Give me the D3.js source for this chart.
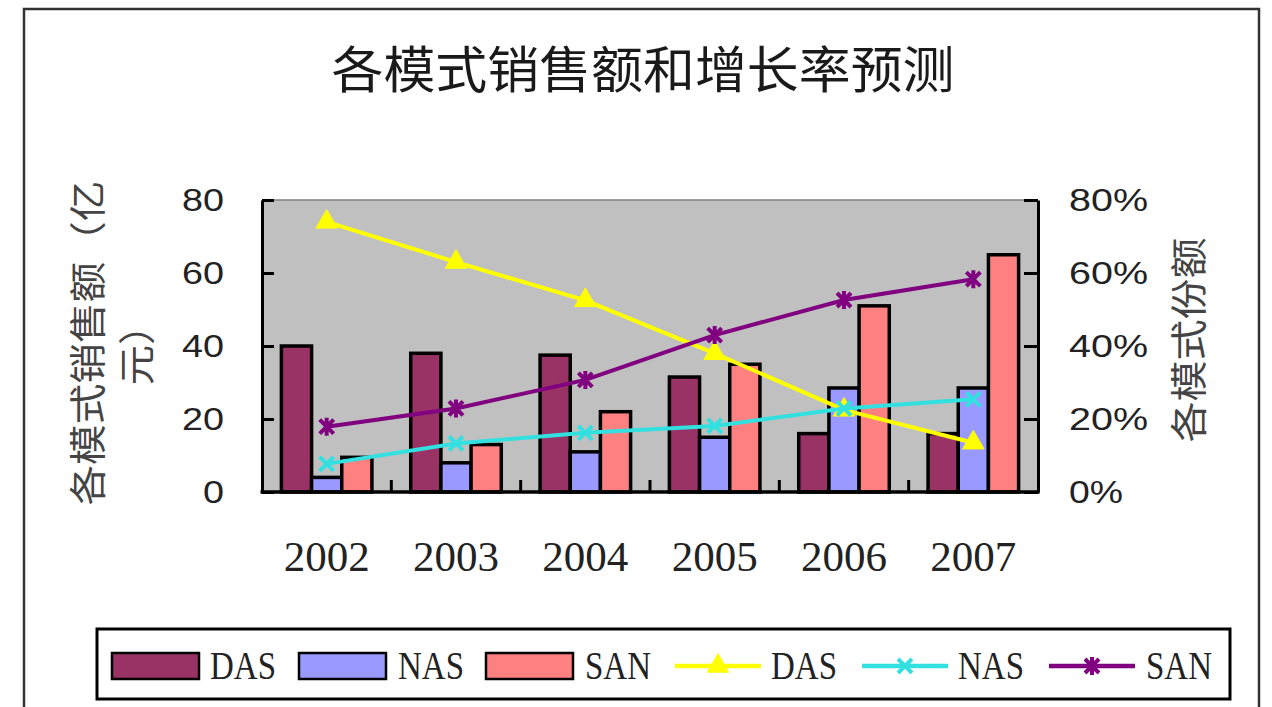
<!DOCTYPE html>
<html>
<head>
<meta charset="utf-8">
<script src="https://cdn.jsdelivr.net/npm/d3@7"></script>
<style>
  html, body { margin: 0; padding: 0; background: #fff; }
  svg { display: block; }
</style>
</head>
<body>
<svg id="chart" width="1272" height="707"></svg>
<script>
// Sales by storage mode (亿元) and each mode's market share, 2002–2007
const years = ["2002", "2003", "2004", "2005", "2006", "2007"];
const salesDAS = [40, 38, 37.5, 31.5, 16, 16];
const salesNAS = [4, 8, 11, 15, 28.5, 28.5];
const salesSAN = [9.5, 13, 22, 35, 51, 65];
const shareDAS = [0.74, 0.63, 0.525, 0.38, 0.225, 0.135];
const shareNAS = [0.077, 0.133, 0.162, 0.181, 0.229, 0.254];
const shareSAN = [0.179, 0.229, 0.307, 0.43, 0.526, 0.583];
const leftTicks = [0, 20, 40, 60, 80];
const rightTicks = [0, 0.2, 0.4, 0.6, 0.8];
const seriesNames = ["DAS", "NAS", "SAN"];

const barColors = { DAS: "#993366", NAS: "#9999FF", SAN: "#FF8080" };
const lineColors = { DAS: "#FFFF00", NAS: "#33E0E0", SAN: "#800080" };

const svg = d3.select("#chart");
const plot = { left: 262, right: 1038, top: 200, bottom: 492 };

const sansFont = "'Liberation Sans', Arial, sans-serif";
const serifFont = "'Liberation Serif', 'DejaVu Serif', serif";
const cjkFont = "'Noto Sans CJK SC', 'Noto Sans', sans-serif";

// outer frame
svg.append("rect")
  .attr("x", 24).attr("y", 9).attr("width", 1235).attr("height", 720)
  .attr("fill", "#fff").attr("stroke", "#333").attr("stroke-width", 2.5);

// title
svg.append("text")
  .attr("x", 643).attr("y", 88)
  .attr("text-anchor", "middle")
  .attr("font-family", cjkFont).attr("font-size", 50)
  .attr("fill", "#1a1a1a")
  .attr("textLength", 623).attr("lengthAdjust", "spacingAndGlyphs")
  .text("各模式销售额和增长率预测");

// scales
const x0 = d3.scaleBand().domain(years)
  .range([plot.left, plot.right]).paddingInner(0.3).paddingOuter(0.15);
const x1 = d3.scaleBand().domain(seriesNames).range([0, x0.bandwidth()]);
const yL = d3.scaleLinear().domain([0, 80]).range([plot.bottom, plot.top]);
const yR = d3.scaleLinear().domain([0, 0.8]).range([plot.bottom, plot.top]);
const cx = y => x0(y) + x0.bandwidth() / 2;

// plot background
svg.append("rect")
  .attr("x", plot.left).attr("y", plot.top)
  .attr("width", plot.right - plot.left).attr("height", plot.bottom - plot.top)
  .attr("fill", "#C0C0C0");
svg.append("line")
  .attr("x1", plot.left).attr("x2", plot.right)
  .attr("y1", plot.top).attr("y2", plot.top)
  .attr("stroke", "#808080").attr("stroke-width", 1.5);

// bars
const salesBySeries = { DAS: salesDAS, NAS: salesNAS, SAN: salesSAN };
seriesNames.forEach(name => {
  svg.append("g").selectAll("rect")
    .data(years.map((yr, i) => ({ yr, v: salesBySeries[name][i] })))
    .join("rect")
    .attr("x", d => x0(d.yr) + x1(name))
    .attr("y", d => yL(d.v))
    .attr("width", x1.bandwidth())
    .attr("height", d => yL(0) - yL(d.v))
    .attr("fill", barColors[name])
    .attr("stroke", "#000").attr("stroke-width", 3.5);
});

// axes
const axisStyle = g => {
  g.select(".domain").attr("stroke", "#000").attr("stroke-width", 3);
  g.selectAll(".tick line").attr("stroke", "#000").attr("stroke-width", 3);
};

const gLeft = svg.append("g").attr("transform", `translate(${plot.left},0)`)
  .call(d3.axisLeft(yL).tickValues(leftTicks).tickSizeInner(-12).tickSizeOuter(0).tickPadding(38))
  .call(axisStyle);
gLeft.selectAll(".tick text")
  .attr("font-family", sansFont).attr("font-size", 32).attr("fill", "#222")
  .attr("textLength", function (d) { return String(d).length * 21; })
  .attr("lengthAdjust", "spacingAndGlyphs");

const gRight = svg.append("g").attr("transform", `translate(${plot.right},0)`)
  .call(d3.axisRight(yR).tickValues(rightTicks).tickFormat(d3.format(".0%"))
    .tickSizeInner(-14).tickSizeOuter(0).tickPadding(31))
  .call(axisStyle);
gRight.selectAll(".tick text")
  .attr("font-family", sansFont).attr("font-size", 32).attr("fill", "#222")
  .attr("textLength", function (d) { return d === 0 ? 54 : 79; })
  .attr("lengthAdjust", "spacingAndGlyphs");

// category axis: ticks between groups, labels under the groups
const boundaries = d3.range(1, years.length).map(i => plot.left + i * x0.step());
svg.append("line")
  .attr("x1", plot.left - 1.5).attr("x2", plot.right + 1.5)
  .attr("y1", plot.bottom).attr("y2", plot.bottom)
  .attr("stroke", "#000").attr("stroke-width", 3.5);
svg.append("g").selectAll("line").data(boundaries).join("line")
  .attr("x1", d => d).attr("x2", d => d)
  .attr("y1", plot.bottom).attr("y2", plot.bottom - 12)
  .attr("stroke", "#000").attr("stroke-width", 3);
svg.append("g").selectAll("text").data(years).join("text")
  .attr("x", d => cx(d)).attr("y", 571)
  .attr("text-anchor", "middle")
  .attr("font-family", serifFont).attr("font-size", 43).attr("fill", "#222")
  .attr("textLength", 86).attr("lengthAdjust", "spacingAndGlyphs")
  .text(d => d);

// axis titles
svg.append("text")
  .attr("transform", "translate(86,343) rotate(-90)")
  .attr("text-anchor", "middle").attr("dominant-baseline", "central")
  .attr("font-family", cjkFont).attr("font-size", 37).attr("fill", "#444")
  .attr("textLength", 325).attr("lengthAdjust", "spacingAndGlyphs")
  .text("各模式销售额（亿");
svg.append("text")
  .attr("transform", "translate(135,345) rotate(-90)")
  .attr("text-anchor", "middle").attr("dominant-baseline", "central")
  .attr("font-family", cjkFont).attr("font-size", 37).attr("fill", "#444")
  .attr("textLength", 81).attr("lengthAdjust", "spacingAndGlyphs")
  .text("元）");
svg.append("text")
  .attr("transform", "translate(1187,340) rotate(-90)")
  .attr("text-anchor", "middle").attr("dominant-baseline", "central")
  .attr("font-family", cjkFont).attr("font-size", 37).attr("fill", "#444")
  .attr("textLength", 205).attr("lengthAdjust", "spacingAndGlyphs")
  .text("各模式份额");

// marker shapes
function drawMarker(g, kind, color) {
  if (kind === "triangle") {
    g.append("path").attr("d", d3.symbol(d3.symbolTriangle, 200)())
      .attr("fill", color).attr("stroke", color).attr("stroke-width", 1);
  } else if (kind === "cross") {
    g.append("path").attr("d", "M-7,-7L7,7M-7,7L7,-7")
      .attr("stroke", color).attr("stroke-width", 4).attr("fill", "none");
  } else {
    g.append("path").attr("d", "M-7,-7L7,7M-7,7L7,-7M0,-9L0,9")
      .attr("stroke", color).attr("stroke-width", 4).attr("fill", "none");
  }
}

// share lines
const shareSeries = [
  { name: "DAS", values: shareDAS, marker: "triangle" },
  { name: "NAS", values: shareNAS, marker: "cross" },
  { name: "SAN", values: shareSAN, marker: "star" }
];
const line = d3.line().x(d => cx(d.yr)).y(d => yR(d.v));
shareSeries.forEach(s => {
  const pts = years.map((yr, i) => ({ yr, v: s.values[i] }));
  const g = svg.append("g");
  g.append("path").datum(pts).attr("d", line)
    .attr("fill", "none").attr("stroke", lineColors[s.name]).attr("stroke-width", 4);
  g.selectAll("g").data(pts).join("g")
    .attr("transform", d => `translate(${cx(d.yr)},${yR(d.v)})`)
    .each(function () { drawMarker(d3.select(this), s.marker, lineColors[s.name]); });
});

// legend
const legend = svg.append("g");
legend.append("rect")
  .attr("x", 97).attr("y", 629).attr("width", 1133).attr("height", 70)
  .attr("fill", "#fff").attr("stroke", "#000").attr("stroke-width", 3);
const legendItems = [
  { type: "bar", name: "DAS", sx: 112, tx: 210 },
  { type: "bar", name: "NAS", sx: 299, tx: 398 },
  { type: "bar", name: "SAN", sx: 486, tx: 585 },
  { type: "line", name: "DAS", marker: "triangle", sx: 675, tx: 771 },
  { type: "line", name: "NAS", marker: "cross", sx: 862, tx: 958 },
  { type: "line", name: "SAN", marker: "star", sx: 1049, tx: 1146 }
];
legendItems.forEach(it => {
  if (it.type === "bar") {
    legend.append("rect")
      .attr("x", it.sx).attr("y", 653).attr("width", 87).attr("height", 26)
      .attr("fill", barColors[it.name]).attr("stroke", "#000").attr("stroke-width", 2.5);
  } else {
    legend.append("line")
      .attr("x1", it.sx).attr("x2", it.sx + 86).attr("y1", 666).attr("y2", 666)
      .attr("stroke", lineColors[it.name]).attr("stroke-width", 4.5);
    const m = legend.append("g").attr("transform", `translate(${it.sx + 43},666)`);
    drawMarker(m, it.marker, lineColors[it.name]);
  }
  legend.append("text")
    .attr("x", it.tx).attr("y", 679)
    .attr("font-family", serifFont).attr("font-size", 40).attr("fill", "#222")
    .attr("textLength", 66).attr("lengthAdjust", "spacingAndGlyphs")
    .text(it.name);
});
</script>
</body>
</html>
